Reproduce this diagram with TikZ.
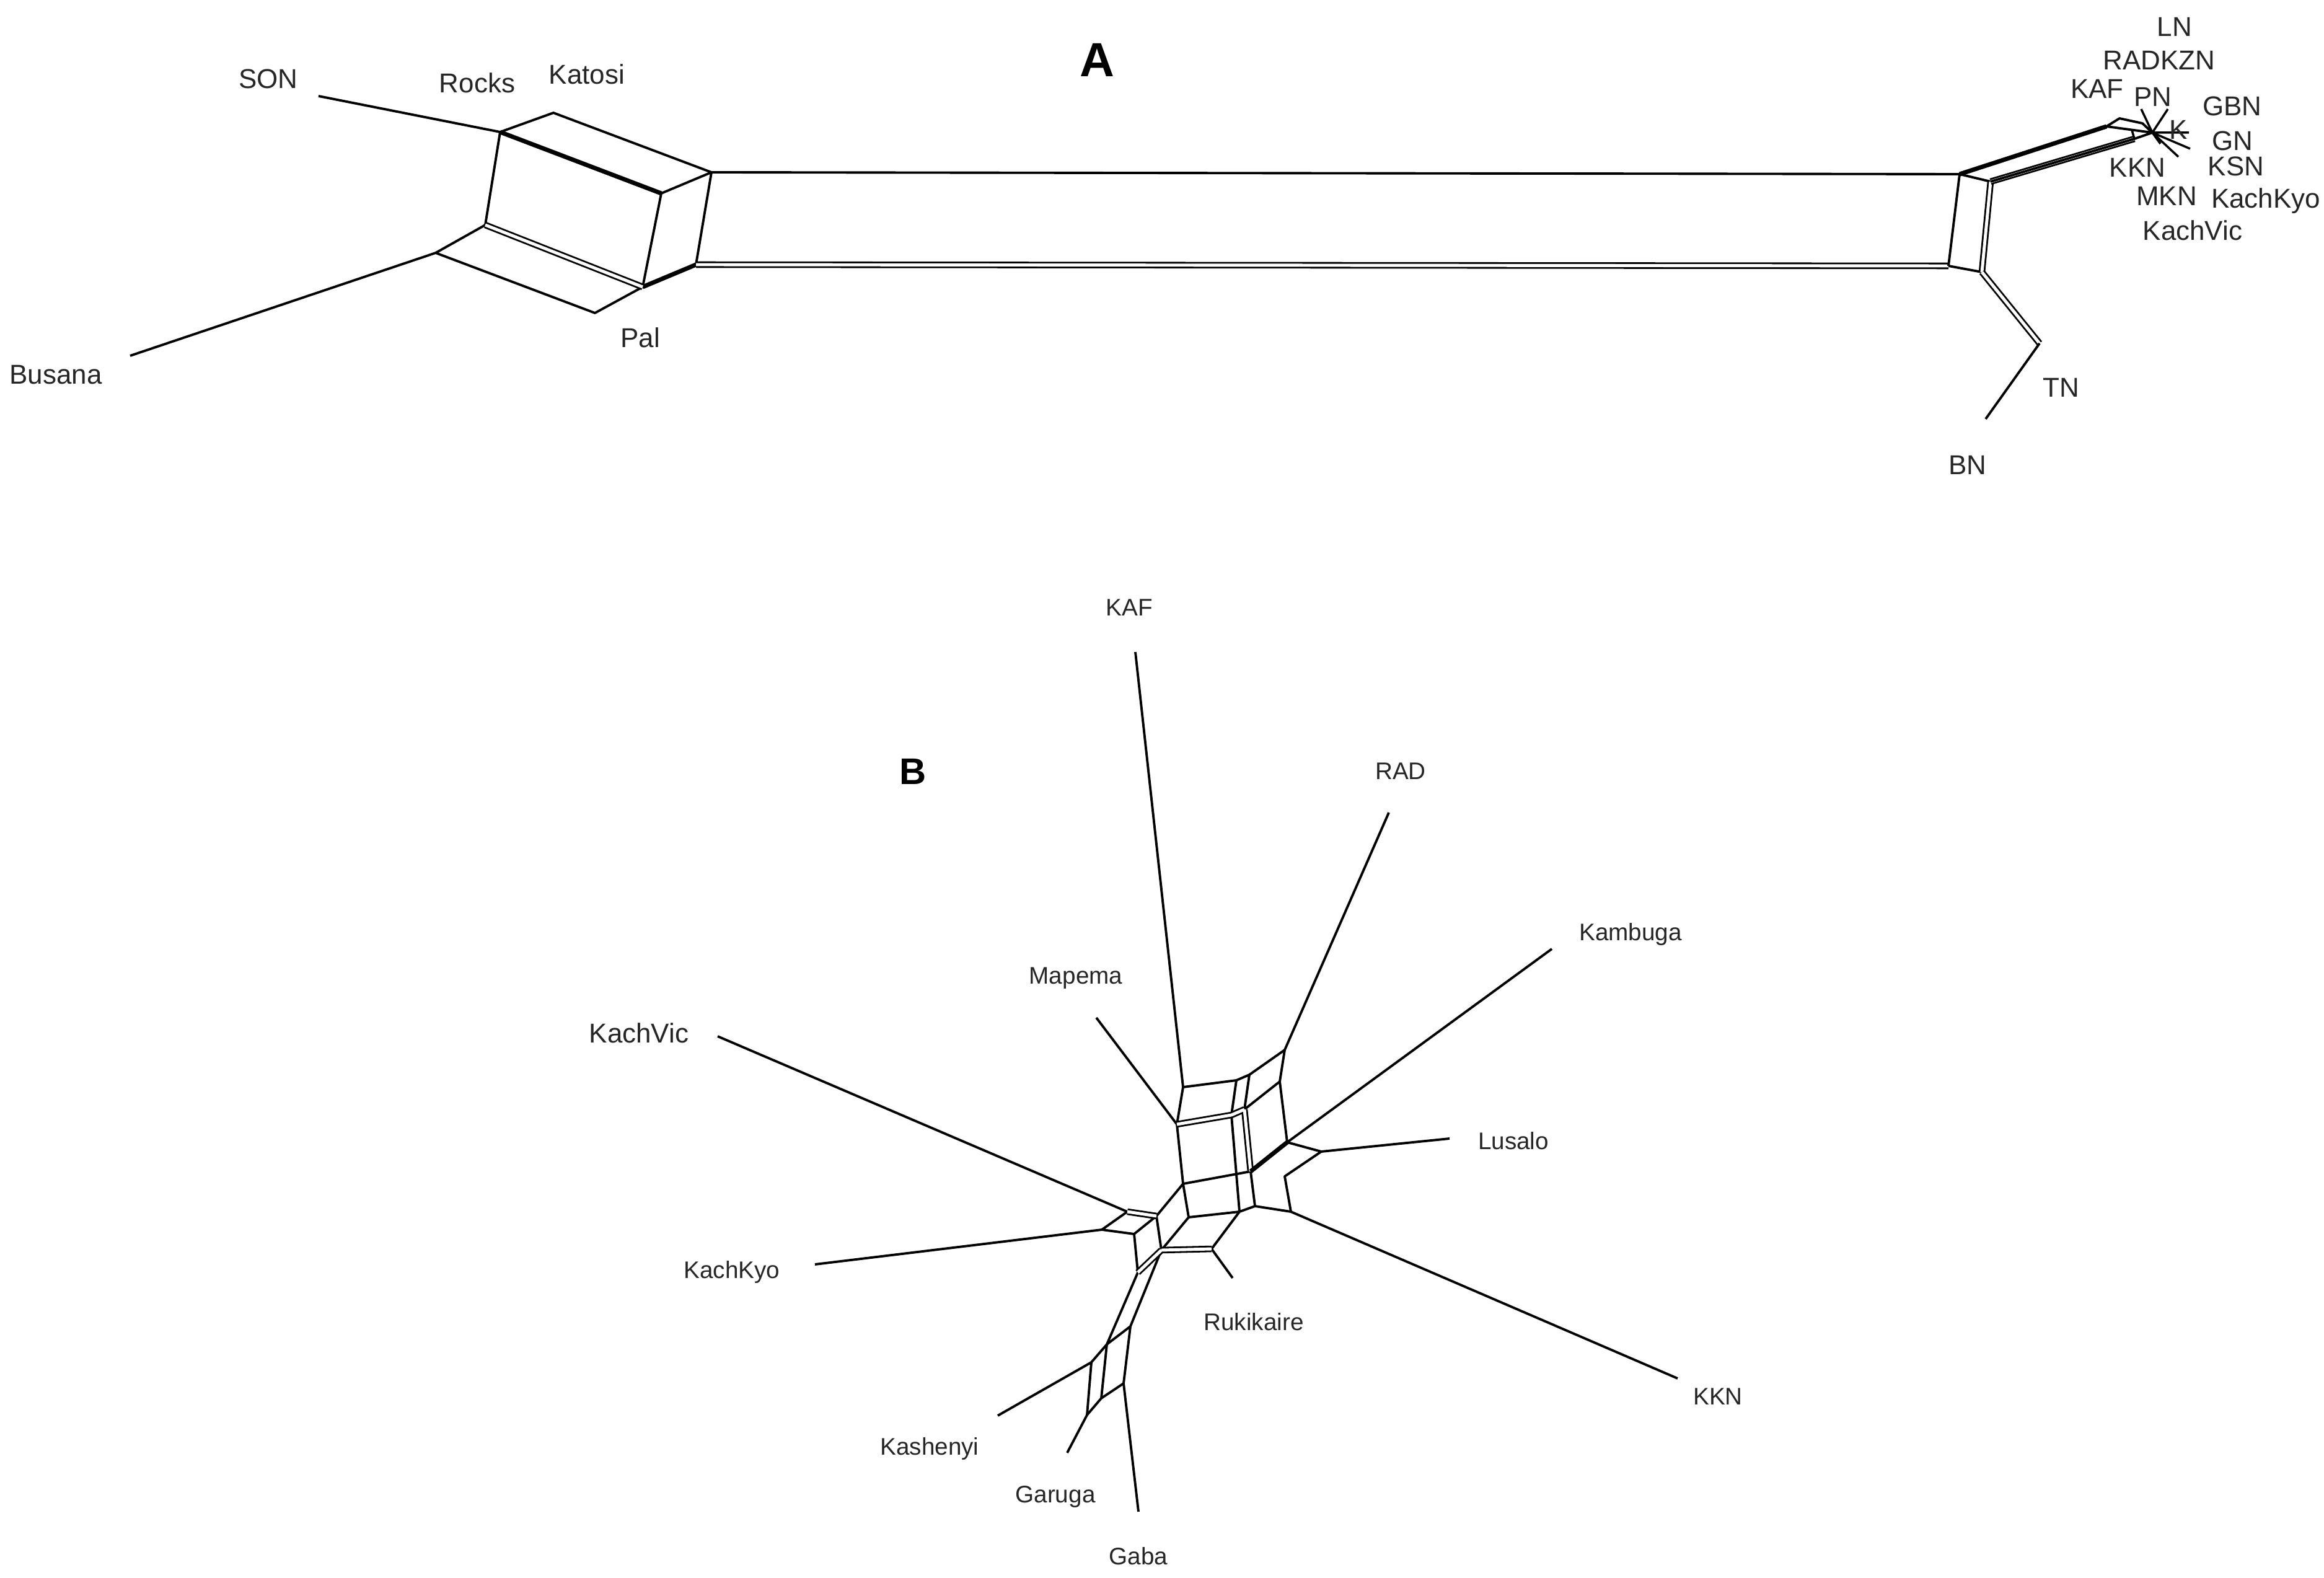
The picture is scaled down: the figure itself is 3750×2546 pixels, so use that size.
\documentclass[tikz,border=0pt]{standalone}
\usepackage{fontspec}
\setmainfont{Liberation Sans}
\begin{document}
\begin{tikzpicture}[x=0.01cm,y=-0.01cm,line width=1.1pt,line join=round,
  lab/.style={font=\fontsize{12.5}{15}\selectfont,text=black!85,inner sep=0pt},
  labb/.style={font=\fontsize{11}{13}\selectfont,text=black!85,inner sep=0pt},
  dbl/.style={double,double distance=1.4pt,line width=0.8pt},
  thk/.style={line width=2pt}]
\useasboundingbox[fill=white] (0,0) rectangle (3750,2546);
\node[font=\bfseries\fontsize{22}{24}\selectfont] (tA) at (1770,97) {A};
\node[font=\bfseries\fontsize{17}{19}\selectfont] (tB) at (1473,1245) {B};
% ---- panel A left
\coordinate (P1) at (807,213); \coordinate (P2) at (893,182);
\coordinate (P3) at (1148,278); \coordinate (P4) at (1067,312);
\coordinate (P5) at (783,363); \coordinate (P6) at (703,408);
\coordinate (P7) at (960,505); \coordinate (P8) at (1037,463);
\coordinate (P9) at (1123,427);
\node[lab] (SON) at (433,127) {SON};
\node[lab] (Rocks) at (770,134) {Rocks};
\node[lab] (Katosi) at (947,120) {Katosi};
\node[lab] (Busana) at (90,605) {Busana};
\node[lab] (Pal) at (1033,545) {Pal};
\coordinate (son) at (514,155); \coordinate (bus) at (210,574);
\draw (son)--(P1) (P1)--(P2)--(P3) (P4)--(P3) (P1)--(P5) (P4)--(P8) (P3)--(P9)
      (bus)--(P6)--(P5) (P6)--(P7)--(P8);
\draw[thk] (P1)--(P4) (P8)--(P9);
\draw[dbl] (P5)--(P8);
% long band
\coordinate (A1) at (3162,281); \coordinate (A2) at (3144,429);
\coordinate (A3) at (3212,293); \coordinate (A4) at (3198,439);
\draw (P3)--(A1);
\draw[dbl] (P9)--(A2);
\draw (A1)--(A2) (A1)--(A3) (A2)--(A4);
\draw[dbl] (A3)--(A4);
% right cluster
\coordinate (C1) at (3420,191); \coordinate (C2) at (3457,199);
\coordinate (C3) at (3399,204); \coordinate (C4) at (3444,224);
\coordinate (C) at (3473,214);
\draw[thk] (A1)--(C3);
\draw (C3)--(C1)--(C2)--(C) (C3)--(C);
\draw[dbl] (A3)--(C4);
\draw (A3)--(C4) (C4)--(C);
\draw[line width=1pt] (C)--(3498,176) (C)--(3455,176) (C)--(3534,240) (C)--(3515,253)
      (C)--(3532,214) (C)--(3486,232) (C4)--(3440,210);
\coordinate (T1) at (3291,554); \coordinate (T2) at (3204,676);
\draw[dbl] (A4)--(T1);
\draw (T1)--(T2);
\node[lab] (LN) at (3509,43) {LN};
\node[lab] (RADKZN) at (3484,97) {RADKZN};
\node[lab] (KAFa) at (3384,143) {KAF};
\node[lab] (PN) at (3474,156) {PN};
\node[lab] (GBN) at (3602,171) {GBN};
\node[lab] (Ka) at (3515,209) {K};
\node[lab] (GN) at (3602,227) {GN};
\node[lab] (KKNa) at (3449,270) {KKN};
\node[lab] (KSN) at (3608,268) {KSN};
\node[lab] (MKN) at (3496,316) {MKN};
\node[lab] (KachKyoa) at (3656,324) {KachKyo};
\node[lab] (KachVica) at (3538,372) {KachVic};
\node[lab] (TN) at (3326,625) {TN};
\node[lab] (BN) at (3175,750) {BN};
% ---- panel B
\coordinate (B1) at (1909,1754); \coordinate (B2) at (1995,1743);
\coordinate (B3) at (2016,1734); \coordinate (B4) at (2073,1694);
\coordinate (B5) at (2065,1745); \coordinate (B6) at (2008,1790);
\coordinate (B7) at (1987,1799); \coordinate (B8) at (1899,1814);
\coordinate (B9) at (2077,1843); \coordinate (B10) at (2018,1890);
\coordinate (B11) at (2132,1858); \coordinate (B12) at (2073,1898);
\coordinate (B13) at (2083,1955); \coordinate (B14) at (2025,1946);
\coordinate (B15) at (2000,1955); \coordinate (B16) at (1909,1910);
\coordinate (B17) at (1918,1964); \coordinate (B18) at (1866,1962);
\coordinate (B19) at (1819,1955); \coordinate (B20) at (1778,1984);
\coordinate (B21) at (1830,1991); \coordinate (B22) at (1874,2017);
\coordinate (B23) at (1836,2053); \coordinate (B24) at (1955,2015);
\coordinate (B26) at (1824,2140); \coordinate (B27) at (1786,2169);
\coordinate (B28) at (1761,2198); \coordinate (B29) at (1813,2232);
\coordinate (B30) at (1777,2256); \coordinate (B31) at (1754,2283);
\node[labb] (KAF) at (1822,980) {KAF};
\node[labb] (RAD) at (2260,1244) {RAD};
\node[labb] (Kambuga) at (2631,1507) {Kambuga};
\node[labb] (Mapema) at (1736,1578) {Mapema};
\node[lab] (KachVic) at (1031,1667) {KachVic};
\node[labb] (Lusalo) at (2442,1841) {Lusalo};
\node[labb] (KachKyo) at (1181,2052) {KachKyo};
\node[labb] (Rukikaire) at (2023,2133) {Rukikaire};
\node[labb] (KKN) at (2772,2253) {KKN};
\node[labb] (Kashenyi) at (1500,2337) {Kashenyi};
\node[labb] (Garuga) at (1703,2415) {Garuga};
\node[labb] (Gaba) at (1837,2511) {Gaba};
\draw (1832,1052)--(B1) (2241,1311)--(B4) (1769,1642)--(B8)
      (2504,1531)--(B9) (2339,1837)--(B11) (2707,2224)--(B13)
      (1158,1672)--(B19) (1315,2040)--(B20) (B24)--(1989,2062)
      (1610,2284)--(B28) (B31)--(1722,2344) (B29)--(1837,2439);
\draw (B1)--(B2)--(B3)--(B4)--(B5) (B3)--(B6)--(B5) (B2)--(B7)--(B15)
      (B1)--(B8)--(B16)--(B10) (B10)--(B14)--(B13)--(B12)--(B11)--(B9)
      (B9)--(B5) (B16)--(B17)--(B15)--(B14) (B16)--(B18)
      (B19)--(B20)--(B21)--(B18)--(B22) (B21)--(B23) (B24)--(B15)
      (B17)--(B22) (B22)--(B26) (B23)--(B27) (B26)--(B27)
      (B26)--(B29) (B27)--(B30) (B28)--(B27) (B28)--(B31) (B29)--(B30)--(B31);
\draw[dbl] (B6)--(B7) (B7)--(B8) (B6)--(B10) (B18)--(B19) (B22)--(B24) (B23)--(B22);
\draw[thk] (B10)--(B9);
\end{tikzpicture}
\end{document}
